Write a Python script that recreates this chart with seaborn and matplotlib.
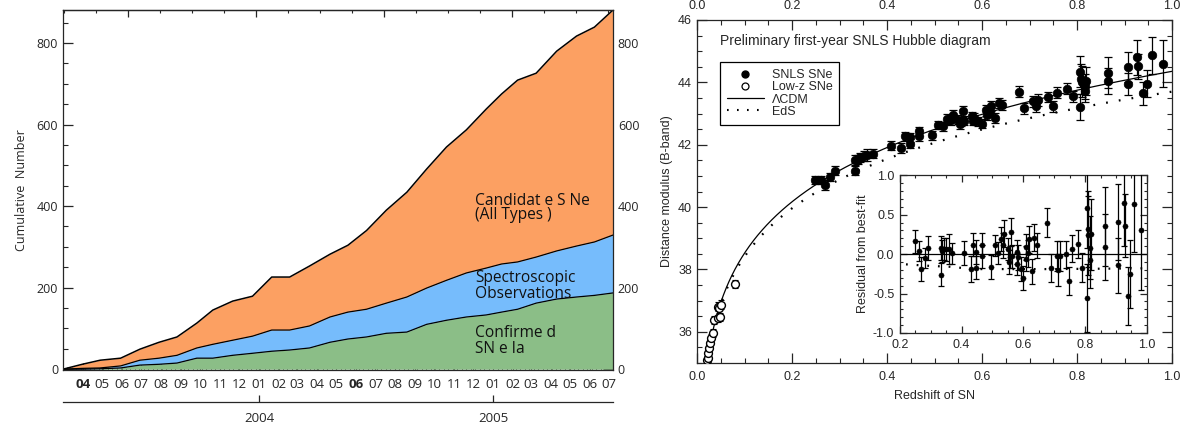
import numpy as np
import pandas as pd
import matplotlib
matplotlib.use("Agg")
import matplotlib.pyplot as plt
from matplotlib.lines import Line2D
from matplotlib.ticker import MultipleLocator, FixedLocator, NullFormatter, FormatStrFormatter
import seaborn as sns

# ---------------- Left panel data (cumulative counts) ----------------
run_dates = ["2003-03-01", "2003-03-31", "2003-04-28", "2003-05-30", "2003-06-29",
             "2003-07-29", "2003-08-26", "2003-09-26", "2003-10-21", "2003-11-21",
             "2003-12-22", "2004-01-21", "2004-02-18", "2004-03-20", "2004-04-21",
             "2004-05-19", "2004-06-17", "2004-07-18", "2004-08-19", "2004-09-19",
             "2004-10-20", "2004-11-20", "2004-12-21", "2005-01-14", "2005-02-08",
             "2005-03-09", "2005-04-10", "2005-05-11", "2005-06-08", "2005-07-07"]
candidates = [0, 12, 22, 27, 49, 66, 79, 113, 145, 167, 179, 226, 226, 253, 282,
              304, 340, 390, 434, 491, 545, 587, 638, 675, 709, 726, 780, 817, 839, 881]
spectroscopic = [0, 2, 3, 8, 22, 27, 34, 52, 61, 71, 81, 96, 96, 106, 128,
                 140, 147, 162, 177, 199, 218, 236, 248, 258, 263, 275, 290, 302, 312, 329]
confirmed = [0, 0, 1, 3, 10, 12, 15, 27, 27, 34, 39, 44, 47, 52, 66,
             74, 79, 88, 91, 110, 120, 128, 133, 140, 147, 162, 172, 177, 181, 187]
month_start = "2003-04-01"
month_end = "2005-07-01"
bold_months = ["2003-04", "2004-06"]
year_labels = ["2004", "2005"]
mjd_major_ticks = [52800, 53000, 53200, 53400]

# ---------------- Right panel data (Hubble diagram) ----------------
z_snls = [0.249, 0.262, 0.269, 0.281, 0.290, 0.332, 0.332, 0.338, 0.344, 0.351,
          0.358, 0.370, 0.408, 0.429, 0.438, 0.448, 0.448, 0.467, 0.467, 0.494,
          0.508, 0.517, 0.527, 0.535, 0.538, 0.550, 0.553, 0.556, 0.559, 0.562,
          0.578, 0.581, 0.583, 0.592, 0.600, 0.608, 0.610, 0.616, 0.619, 0.627,
          0.635, 0.643, 0.677, 0.689, 0.708, 0.713, 0.718, 0.738, 0.749, 0.758,
          0.778, 0.791, 0.806, 0.806, 0.808, 0.810, 0.818, 0.816, 0.816, 0.866,
          0.866, 0.907, 0.907, 0.927, 0.929, 0.938, 0.947, 0.958, 0.981]
resid_snls = [0.16, 0.04, -0.19, -0.05, 0.08, 0.08, -0.26, 0.04, 0.07, 0.06,
              0.06, 0.01, 0.01, -0.19, 0.12, 0.03, -0.17, 0.12, -0.03, -0.16,
              0.11, 0.01, 0.19, 0.11, 0.26, 0.06, -0.10, -0.04, 0.28, -0.03,
              0.03, -0.12, -0.04, -0.19, -0.30, 0.09, -0.06, 0.01, 0.19, -0.22,
              0.21, 0.11, 0.40, -0.18, -0.03, -0.20, -0.03, 0.00, -0.34, 0.07,
              0.13, -0.17, 0.58, -0.56, 0.32, 0.24, 0.25, 0.08, -0.08, 0.35,
              0.09, 0.41, -0.14, 0.65, 0.36, -0.53, -0.25, 0.63, 0.30]
err_snls = [0.14, 0.13, 0.15, 0.13, 0.15, 0.15, 0.15, 0.14, 0.14, 0.15,
            0.19, 0.13, 0.15, 0.16, 0.15, 0.15, 0.15, 0.15, 0.15, 0.15,
            0.13, 0.14, 0.15, 0.16, 0.17, 0.14, 0.15, 0.14, 0.18, 0.15,
            0.15, 0.14, 0.16, 0.15, 0.15, 0.17, 0.16, 0.17, 0.17, 0.16,
            0.17, 0.16, 0.18, 0.18, 0.19, 0.20, 0.19, 0.17, 0.18, 0.17,
            0.18, 0.18, 0.50, 0.43, 0.48, 0.50, 0.45, 0.40, 0.35, 0.50,
            0.42, 0.48, 0.35, 0.55, 0.40, 0.37, 0.43, 0.60, 0.75]
z_low = [0.020, 0.0239, 0.024, 0.026, 0.0275, 0.0302, 0.0337, 0.035, 0.0443,
         0.045, 0.0468, 0.0489, 0.050, 0.080]
mu_low = [35.10, 35.16, 35.32, 35.48, 35.64, 35.80, 35.96, 36.38, 36.81,
          36.43, 36.76, 36.47, 36.87, 37.54]
err_low = [0.12, 0.12, 0.12, 0.12, 0.12, 0.12, 0.12, 0.12, 0.15,
           0.12, 0.15, 0.12, 0.15, 0.12]
eds_resid_z = [0.22, 0.30, 0.36, 0.44, 0.55, 0.70, 0.85, 1.00]
eds_resid = [-0.13, -0.15, -0.16, -0.19, -0.19, -0.19, -0.185, -0.18]

# model parameters for the theory curves
C_KMS = 299792.458
H0 = 70.0
OMEGA_M = 0.26
MU_OFFSET = 0.2

# ---------------- style ----------------
sns.set_theme(style="ticks")
plt.rcParams["font.family"] = ["Open Sans", "DejaVu Sans"]
plt.rcParams["axes.linewidth"] = 0.9

ORANGE = "#FCA062"
BLUE = "#76BCFC"
GREEN = "#8BBE87"

fig = plt.figure(figsize=(11.84, 4.26), dpi=100)

# ======================= LEFT PANEL =======================
axL = fig.add_axes([63 / 1184, (426 - 370) / 426, 550 / 1184, 360 / 426])
epoch = pd.Timestamp("1858-11-17")
x_mjd = np.asarray((pd.to_datetime(run_dates) - epoch).days, dtype=float)
dfL = pd.DataFrame({"mjd": x_mjd, "cand": candidates, "spec": spectroscopic,
                    "conf": confirmed})

axL.fill_between(dfL["mjd"], dfL["spec"], dfL["cand"], color=ORANGE, lw=0)
axL.fill_between(dfL["mjd"], dfL["conf"], dfL["spec"], color=BLUE, lw=0)
axL.fill_between(dfL["mjd"], 0, dfL["conf"], color=GREEN, lw=0)
for col, lw in [("cand", 1.1), ("spec", 0.9), ("conf", 0.9)]:
    sns.lineplot(data=dfL, x="mjd", y=col, ax=axL, color="black", lw=lw,
                 estimator=None, sort=False)

axL.set_xlim(x_mjd[0], x_mjd[-1])
axL.set_ylim(-2, 881)
axL.set_xlabel("")
axL.set_ylabel("Cumulative  Number", fontsize=9, labelpad=6)

months = pd.date_range(month_start, month_end, freq="MS")
month_mjd = np.asarray((months - epoch).days, dtype=float)
axL.set_xticks(month_mjd)
axL.set_xticklabels([m.strftime("%m") for m in months], fontsize=9.5)
for lbl, m in zip(axL.get_xticklabels(), months):
    if m.strftime("%Y-%m") in bold_months:
        lbl.set_fontweight("bold")
weeks = np.arange(x_mjd[0], x_mjd[-1], 7.0)
axL.xaxis.set_minor_locator(FixedLocator(weeks))
axL.tick_params(axis="x", which="major", direction="in", length=5, width=0.8,
                pad=6, top=False)
axL.tick_params(axis="x", which="minor", direction="in", length=2.5, width=0.6,
                top=False)

axL.yaxis.set_major_locator(MultipleLocator(200))
axL.yaxis.set_minor_locator(MultipleLocator(50))
axL.tick_params(axis="y", which="major", direction="in", length=7, width=0.9,
                labelsize=9, left=True, right=True, labelleft=True, labelright=True)
axL.tick_params(axis="y", which="minor", direction="in", length=3.5, width=0.8,
                left=True, right=True)

# top axis: MJD ticks
topL = axL.secondary_xaxis("top")
topL.set_xticks(mjd_major_ticks)
topL.xaxis.set_minor_locator(MultipleLocator(50))
topL.xaxis.set_major_formatter(NullFormatter())
topL.tick_params(which="major", direction="in", length=5, width=0.9)
topL.tick_params(which="minor", direction="in", length=2.5, width=0.8)

# year axis below
yearL = axL.secondary_xaxis(-0.09)
year_mjd = np.asarray((pd.to_datetime([y + "-01-01" for y in year_labels]) - epoch).days,
                      dtype=float)
yearL.set_xticks(year_mjd)
yearL.set_xticklabels(year_labels, fontsize=9.5)
yearL.tick_params(direction="in", length=5, width=0.9, pad=7)
yearL.spines["bottom"].set_linewidth(0.9)

txt_kw = dict(transform=axL.transAxes, fontsize=11.2, va="baseline", ha="left",
              color="#111111")
xt = (475 - 63) / 550
axL.text(xt, (370 - 205) / 360, "Candidat e S Ne", **txt_kw)
axL.text(xt, (370 - 219) / 360, "(All Types )", **txt_kw)
axL.text(xt, (370 - 282) / 360, "Spectroscopic", **txt_kw)
axL.text(xt, (370 - 298) / 360, "Observations", **txt_kw)
axL.text(xt, (370 - 337) / 360, "Confirme d", **txt_kw)
axL.text(xt, (370 - 353) / 360, "SN e Ia", **txt_kw)

# ======================= RIGHT PANEL =======================
HF = ["Liberation Sans", "DejaVu Sans"]
axR = fig.add_axes([697 / 1184, 63 / 426, 475 / 1184, 343 / 426])

zz = np.linspace(0.0, 1.05, 3001)


def mu_curve(om):
    inv_e = 1.0 / np.sqrt(om * (1 + zz) ** 3 + (1 - om))
    dc = np.concatenate([[0.0], np.cumsum(0.5 * (inv_e[1:] + inv_e[:-1]) * np.diff(zz))])
    dl = (1 + zz[1:]) * dc[1:] * C_KMS / H0
    return zz[1:], 5 * np.log10(dl) + 25 + MU_OFFSET


zc, mu_lcdm = mu_curve(OMEGA_M)
_, mu_eds = mu_curve(1.0)
curves = pd.DataFrame({"z": zc, "lcdm": mu_lcdm, "eds": mu_eds})

sns.lineplot(data=curves, x="z", y="lcdm", ax=axR, color="black", lw=0.9,
             estimator=None, sort=False)
sns.lineplot(data=curves, x="z", y="eds", ax=axR, color="black", lw=1.6,
             linestyle=(0, (0.8, 5)), estimator=None, sort=False)

mu_snls = np.interp(z_snls, zc, mu_lcdm) + np.asarray(resid_snls)
axR.errorbar(z_snls, mu_snls, yerr=err_snls, fmt="none", ecolor="black",
             elinewidth=0.9, capsize=2.8, capthick=0.9, zorder=3)
sns.scatterplot(x=z_snls, y=mu_snls, ax=axR, color="black", s=38,
                edgecolor="black", linewidth=0.5, zorder=4)
axR.errorbar(z_low, mu_low, yerr=err_low, fmt="none", ecolor="black",
             elinewidth=0.8, capsize=2, capthick=0.8, zorder=3)
sns.scatterplot(x=z_low, y=mu_low, ax=axR, facecolor="white", s=32,
                edgecolor="black", linewidth=1.0, zorder=4)

axR.set_xlim(0, 1.0)
axR.set_ylim(35, 46)
axR.xaxis.set_major_locator(MultipleLocator(0.2))
axR.xaxis.set_minor_locator(MultipleLocator(0.05))
axR.yaxis.set_major_locator(MultipleLocator(2))
axR.yaxis.set_minor_locator(MultipleLocator(0.5))
axR.xaxis.set_major_formatter(FormatStrFormatter("%.1f"))
axR.tick_params(which="major", direction="in", length=7, width=0.9, top=True,
                right=True, labeltop=True, labelsize=9)
axR.tick_params(axis="x", which="major", pad=6)
axR.tick_params(which="minor", direction="in", length=3.5, width=0.8, top=True,
                right=True)
for lbl in axR.get_xticklabels() + axR.get_yticklabels():
    lbl.set_family(HF)
axR.set_xlabel("Redshift of SN", fontsize=9, family=HF, labelpad=5)
axR.set_ylabel("Distance modulus (B-band)", fontsize=9, family=HF, labelpad=4)

axR.text(0.048, 0.96, "Preliminary first-year SNLS Hubble diagram",
         transform=axR.transAxes, fontsize=10, family=HF, va="top", ha="left")

handles = [
    Line2D([], [], marker="o", ls="none", color="black", ms=5),
    Line2D([], [], marker="o", ls="none", mfc="white", mec="black", ms=5, mew=0.9),
    Line2D([], [], color="black", lw=0.9),
    Line2D([], [], color="black", lw=1.5, ls=(0, (0.8, 4))),
]
leg = axR.legend(handles, ["SNLS SNe", "Low-z SNe", "ΛCDM", "EdS"],
                 loc="upper left", bbox_to_anchor=(0.048, 0.877), frameon=True,
                 fancybox=False, edgecolor="black", framealpha=1,
                 prop={"family": HF, "size": 9}, handlelength=3.0,
                 handletextpad=0.6, labelspacing=0.02, borderpad=0.55,
                 borderaxespad=0)
leg.get_frame().set_linewidth(0.9)

# inset residuals
axI = axR.inset_axes([0.427, 0.0875, 0.52, 0.46])
axI.set_facecolor("white")
axI.axhline(0, color="black", lw=0.9)
sns.lineplot(x=eds_resid_z, y=eds_resid, ax=axI, color="black", lw=1.6,
             linestyle=(0, (0.8, 4)), estimator=None, sort=False)
axI.errorbar(z_snls, resid_snls, yerr=err_snls, fmt="none", ecolor="black",
             elinewidth=0.9, capsize=2.2, capthick=0.9, zorder=3)
sns.scatterplot(x=z_snls, y=resid_snls, ax=axI, color="black", s=14,
                edgecolor="black", linewidth=0.3, zorder=4)
axI.set_xlim(0.2, 1.0)
axI.set_ylim(-1.0, 1.0)
axI.xaxis.set_major_locator(MultipleLocator(0.2))
axI.xaxis.set_minor_locator(MultipleLocator(0.05))
axI.yaxis.set_major_locator(MultipleLocator(0.5))
axI.yaxis.set_minor_locator(MultipleLocator(0.1))
axI.xaxis.set_major_formatter(FormatStrFormatter("%.1f"))
axI.yaxis.set_major_formatter(FormatStrFormatter("%.1f"))
axI.tick_params(which="major", direction="in", length=5, width=0.9, top=True,
                right=True, labelsize=9, pad=4)
axI.tick_params(which="minor", direction="in", length=2.5, width=0.8, top=True,
                right=True)
for lbl in axI.get_xticklabels() + axI.get_yticklabels():
    lbl.set_family(HF)
axI.set_ylabel("Residual from best-fit", fontsize=9, family=HF, labelpad=3)
axI.set_xlabel("")
for s in axI.spines.values():
    s.set_linewidth(0.9)

fig.savefig("out.png", dpi=100)
